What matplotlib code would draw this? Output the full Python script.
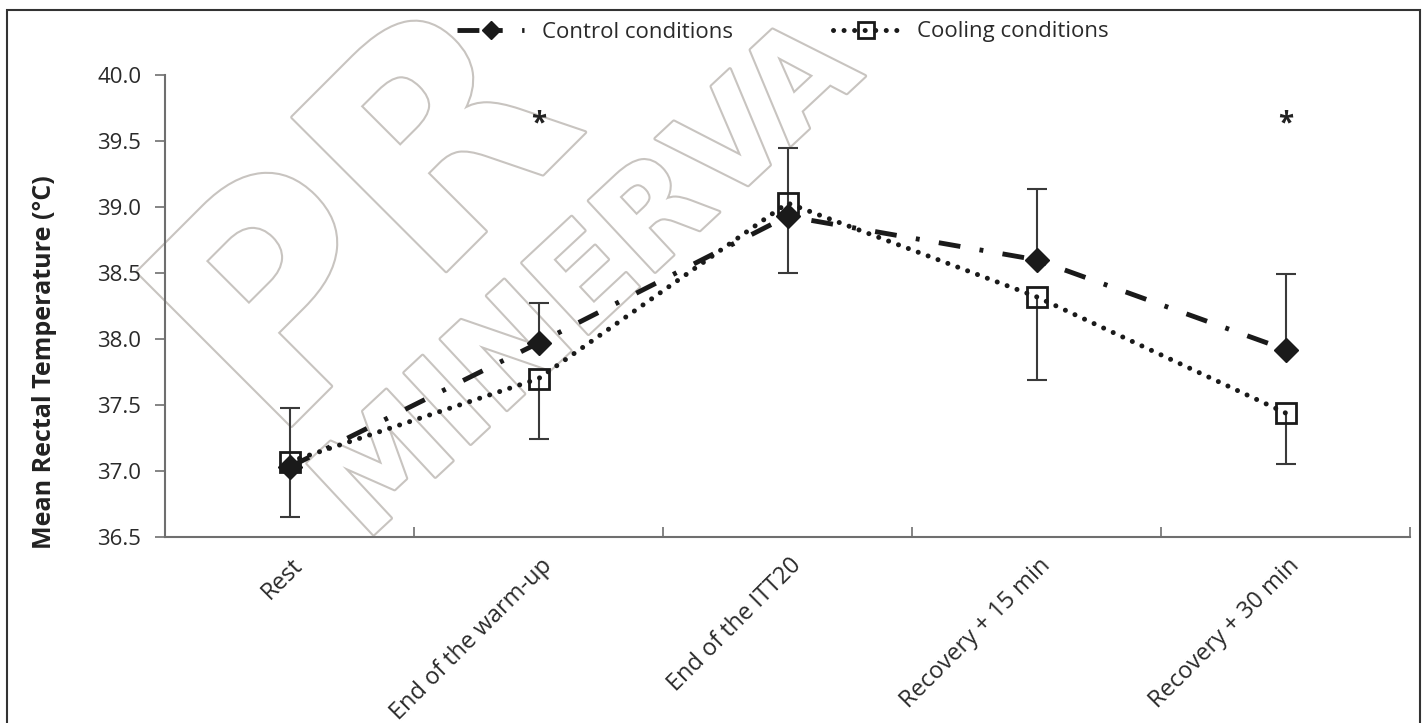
import matplotlib
matplotlib.use('Agg')
import matplotlib.pyplot as plt
import matplotlib.patheffects as pe
import matplotlib.transforms as mtransforms
from matplotlib.patches import Rectangle
import numpy as np

plt.rcParams['font.family'] = ['Open Sans', 'DejaVu Sans']

# data
stages = ['Rest', 'End of the warm-up', 'End of the ITT20', 'Recovery + 15 min', 'Recovery + 30 min']
control = [37.03, 37.97, 38.93, 38.60, 37.92]
control_sd = [0.45, 0.30, 0.52, 0.54, 0.57]   # drawn upwards
cooling = [37.07, 37.70, 39.03, 38.32, 37.44]
cooling_sd = [0.42, 0.46, 0.53, 0.63, 0.39]   # drawn downwards
signif = [1, 4]          # stages marked with *
signif_y = 39.63
yticks = [36.5, 37.0, 37.5, 38.0, 38.5, 39.0, 39.5, 40.0]

W, H = 1425, 723
fig = plt.figure(figsize=(W / 100, H / 100), dpi=100)
fig.patch.set_facecolor('white')

# outer frame of the figure
fig.patches.append(Rectangle((7 / W, -0.05), (1420 - 7) / W, 1.05 - 10 / H,
                             transform=fig.transFigure, fill=False,
                             edgecolor='#333333', lw=1.5, zorder=0))

# watermark (hollow letters)
wm = dict(color='white', fontweight='bold', family=['DejaVu Sans'],
          ha='center', va='center', zorder=-1, rotation_mode='anchor',
          path_effects=[pe.Stroke(linewidth=3, foreground='#c8c4c0'), pe.Normal()])
fig.text(372 / W, 1 - 228 / H, 'PR', fontsize=215, rotation=45, **wm)
fig.text(590 / W, 1 - 282 / H, 'MINERVA', fontsize=96, rotation=43, **wm)

ax = fig.add_axes([165 / W, 1 - 537 / H, (1410 - 165) / W, (537 - 75) / H])
ax.patch.set_alpha(0)

x = np.arange(len(stages))
ctrl = np.array(control)
cool = np.array(cooling)

# error bars: control up, cooling down
ebc = '#3a3a3a'
ax.vlines(x, ctrl, ctrl + np.array(control_sd), color=ebc, lw=1.5, zorder=2)
ax.plot(x, ctrl + np.array(control_sd), ls='none', marker='_', ms=15, mew=1.5, color=ebc, zorder=2)
ax.vlines(x, cool - np.array(cooling_sd), cool, color=ebc, lw=1.5, zorder=2)
ax.plot(x, cool - np.array(cooling_sd), ls='none', marker='_', ms=15, mew=1.5, color=ebc, zorder=2)

l1, = ax.plot(x, ctrl, color='#1a1a1a', lw=3.5, dashes=(4.5, 4.0, 0.8, 4.0),
              marker='D', ms=12, mfc='#1a1a1a', mec='#1a1a1a', zorder=4,
              label='Control conditions')
l2, = ax.plot(x, cool, color='#1a1a1a', lw=3.6, dashes=(0.01, 2.1),
              dash_capstyle='round', marker='s', ms=14, mfc='none',
              mec='#1a1a1a', mew=2, zorder=3, label='Cooling conditions')

for i in signif:
    ax.text(x[i], signif_y, '*', ha='center', va='center', fontsize=20,
            fontweight='bold', color='#222222')

ax.set_xlim(-0.5, len(stages) - 0.5)
ax.set_ylim(36.5, 40.0)
ax.set_yticks(yticks)
ax.set_yticklabels(['%.1f' % v for v in yticks])

for s in ['top', 'right']:
    ax.spines[s].set_visible(False)
for s in ['left', 'bottom']:
    ax.spines[s].set_color('#6f6f6f')
    ax.spines[s].set_linewidth(1.5)

ax.tick_params(axis='y', direction='out', length=7, width=1.2, color='#6f6f6f',
               labelsize=16, labelcolor='#2a2a2a', pad=10)
ax.set_xticks(x)
ax.set_xticklabels(stages, rotation=45, ha='right', va='center',
                   rotation_mode='anchor', fontsize=17, color='#2a2a2a')
ax.tick_params(axis='x', which='major', length=0, pad=18)
ax.set_xticks(np.arange(0.5, len(stages), 1.0), minor=True)
ax.tick_params(axis='x', which='minor', direction='in', length=7, width=1.2, color='#6f6f6f')
off = mtransforms.ScaledTranslation(10 / 100, 0, fig.dpi_scale_trans)
for lbl in ax.get_xticklabels():
    lbl.set_transform(lbl.get_transform() + off)

fig.text(45 / W, 1 - 362 / H, 'Mean Rectal Temperature (°C)', rotation=90,
         ha='center', va='center', fontsize=18, fontweight='bold', color='#222222')

fig.legend(handles=[l1, l2], loc='center', bbox_to_anchor=(783 / W, 1 - 32 / H),
           ncol=2, frameon=False, fontsize=16, handlelength=3.0,
           handletextpad=0.8, columnspacing=4.5, numpoints=1, markerscale=0.8,
           labelcolor='#2a2a2a')

fig.savefig('out.png', dpi=100)
